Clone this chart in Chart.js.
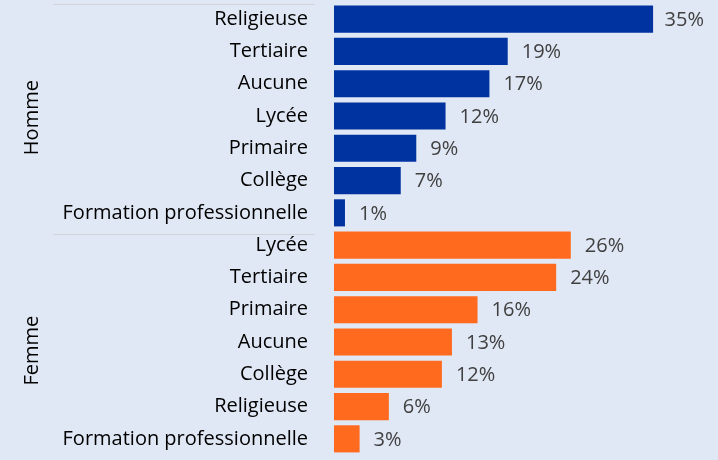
<!DOCTYPE html>
<html>
<head>
<meta charset="utf-8">
<script src="https://cdn.jsdelivr.net/npm/chart.js@4/dist/chart.umd.min.js"></script>
<style>
  html, body { margin: 0; padding: 0; background: #E1E8F5; }
  #wrap { width: 718px; height: 460px; position: relative; }
</style>
</head>
<body>
<div id="wrap"><canvas id="eduChart"></canvas></div>
<script>
// data
var groups = ['Homme', 'Femme'];
var hommeCats = ['Religieuse', 'Tertiaire', 'Aucune', 'Lycée', 'Primaire', 'Collège', 'Formation professionnelle'];
var hommeVals = [34.9, 19, 17, 12.2, 9, 7.3, 1.2];
var femmeCats = ['Lycée', 'Tertiaire', 'Primaire', 'Aucune', 'Collège', 'Religieuse', 'Formation professionnelle'];
var femmeVals = [25.9, 24.3, 15.7, 12.9, 11.8, 6, 2.8];

var blue = '#0033A0';
var orange = '#FF6A1F';
var fontFam = '"Open Sans", sans-serif';

var labels = hommeCats.concat(femmeCats);
var values = hommeVals.concat(femmeVals);
var colors = hommeVals.map(() => blue).concat(femmeVals.map(() => orange));

//value labels at the end of each bar (kept inside the canvas like excel does)
var valueLabels = {
    id: 'valueLabels',
    afterDatasetsDraw(chart) {
        const ctx = chart.ctx;
        const meta = chart.getDatasetMeta(0);
        ctx.save();
        ctx.font = '20px ' + fontFam;
        ctx.fillStyle = '#404040';
        ctx.textAlign = 'left';
        ctx.textBaseline = 'middle';
        meta.data.forEach((bar, i) => {
            const txt = Math.round(values[i]) + '%';
            const w = ctx.measureText(txt).width;
            const x = Math.min(bar.x + 14, 704 - w);
            ctx.fillText(txt, x, bar.y + 1);
        });
        ctx.restore();
    }
};

//group names + separator lines on the left
var groupAxis = {
    id: 'groupAxis',
    afterDraw(chart) {
        const ctx = chart.ctx;
        const y = chart.scales.y;
        ctx.save();
        ctx.strokeStyle = '#D3D3DA';
        ctx.lineWidth = 1;
        const lines = [y.getPixelForValue(0) - 15, y.getPixelForValue(hommeCats.length) - 11];
        lines.forEach(ly => {
            ctx.beginPath();
            ctx.moveTo(53, Math.round(ly) + 0.5);
            ctx.lineTo(315, Math.round(ly) + 0.5);
            ctx.stroke();
        });
        ctx.fillStyle = '#000';
        ctx.font = '20px ' + fontFam;
        ctx.textAlign = 'center';
        ctx.textBaseline = 'middle';
        const centers = [y.getPixelForValue(3.05), y.getPixelForValue(10.27)];
        groups.forEach((g, i) => {
            ctx.save();
            ctx.translate(32, centers[i]);
            ctx.rotate(-Math.PI / 2);
            ctx.fillText(g, 0, 0);
            ctx.restore();
        });
        ctx.restore();
    }
};

new Chart(document.getElementById('eduChart'), {
    type: 'bar',
    data: {
        labels: labels,
        datasets: [{
            data: values,
            backgroundColor: colors,
            barPercentage: 0.84,
            categoryPercentage: 1
        }]
    },
    options: {
        indexAxis: 'y',
        responsive: true,
        maintainAspectRatio: false,
        animation: false,
        layout: { padding: { top: 3, bottom: 5, left: 0, right: 0 } },
        plugins: {
            legend: { display: false },
            tooltip: { enabled: false }
        },
        scales: {
            x: { display: false, min: 0, max: 42 },
            y: {
                grid: { display: false, drawTicks: false },
                border: { display: false },
                ticks: {
                    autoSkip: false,
                    color: '#000',
                    padding: 26,
                    font: { family: fontFam, size: 20 }
                },
                afterFit: scale => {
                    scale.width = 334;
                    scale.paddingTop = 0;
                    scale.paddingBottom = 0;
                }
            }
        }
    },
    plugins: [valueLabels, groupAxis]
});
</script>
</body>
</html>
